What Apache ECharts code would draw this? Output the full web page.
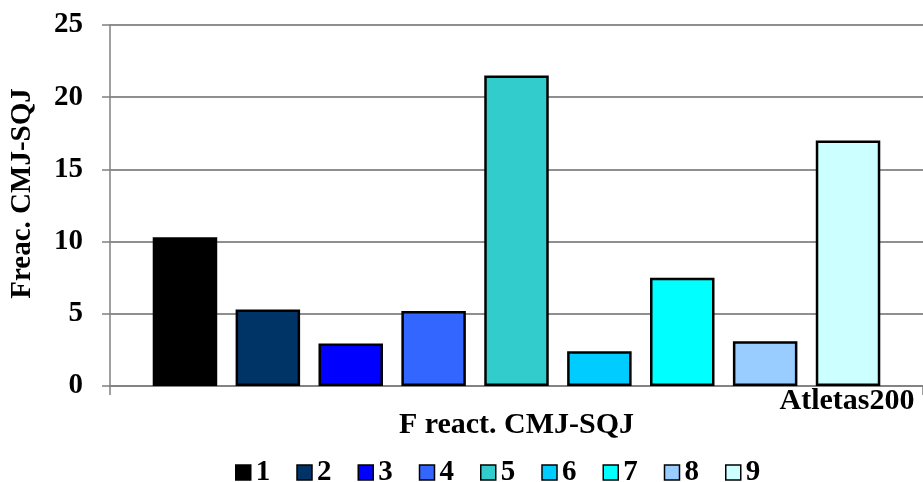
<!DOCTYPE html>
<html><head><meta charset="utf-8">
<script src="https://cdn.jsdelivr.net/npm/echarts@6/dist/echarts.min.js"></script>
<style>html,body{margin:0;padding:0;background:#fff}#c{width:923px;height:482px}</style>
</head><body><div id="c"></div>
<script>
const categories = ['Atletas200'];
const seriesNames = ['1','2','3','4','5','6','7','8','9'];
const seriesValues = [10.3, 5.3, 2.95, 5.2, 21.5, 2.4, 7.5, 3.1, 17.0];
const seriesColors = ['#000000','#003366','#0000ff','#3366ff','#33cccc','#00ccff','#00ffff','#99ccff','#ccffff'];
const yTicks = [0, 5, 10, 15, 20, 25];

const font = 'Liberation Serif';
const fs = 29;
const chart = echarts.init(document.getElementById('c'));
chart.setOption({
  animation: false,
  grid: {left: 110, top: 25, width: 821, height: 361, containLabel: false},
  xAxis: {
    type: 'category', data: categories,
    name: 'F react. CMJ-SQJ', nameLocation: 'middle', nameGap: 24, nameMoveOverlap: false,
    nameTextStyle: {fontFamily: font, fontWeight: 'bold', fontSize: 30, color: '#000', lineHeight: 30},
    axisLine: {lineStyle: {color: '#808080', width: 1.5}},
    axisTick: {show: true, length: 9, lineStyle: {color: '#808080', width: 1.5}},
    axisLabel: {fontFamily: font, fontWeight: 'bold', fontSize: 30, color: '#000', margin: 1, lineHeight: 29,
      align: 'left', padding: [0, 0, 0, 263]}
  },
  yAxis: {
    type: 'value', min: yTicks[0], max: yTicks[yTicks.length-1], interval: 5,
    name: 'Freac. CMJ-SQJ', nameLocation: 'middle', nameGap: 73, nameMoveOverlap: false,
    nameTextStyle: {fontFamily: font, fontWeight: 'bold', fontSize: fs, color: '#000', padding: [0, 0, 0, 24]},
    axisLine: {show: true, lineStyle: {color: '#808080', width: 1.5}},
    axisTick: {show: true, length: 8, lineStyle: {color: '#808080', width: 1.5}},
    axisLabel: {fontFamily: font, fontWeight: 'bold', fontSize: fs, color: '#000', margin: 27},
    splitLine: {lineStyle: {color: '#6a6a6a', width: 1.5}}
  },
  legend: {
    data: seriesNames, left: 230, top: 453,
    icon: 'rect', itemWidth: 15, itemHeight: 15, itemGap: 26,
    textStyle: {fontFamily: font, fontWeight: 'bold', fontSize: fs, color: '#000'},
    itemStyle: {borderColor: '#000', borderWidth: 1.5}
  },
  series: seriesNames.map((n, i) => ({
    name: n, type: 'bar', data: [seriesValues[i]],
    barWidth: 64.5, barGap: '28.5%',
    itemStyle: {color: seriesColors[i], borderColor: '#000', borderWidth: 2.5}
  }))
});
</script></body></html>
